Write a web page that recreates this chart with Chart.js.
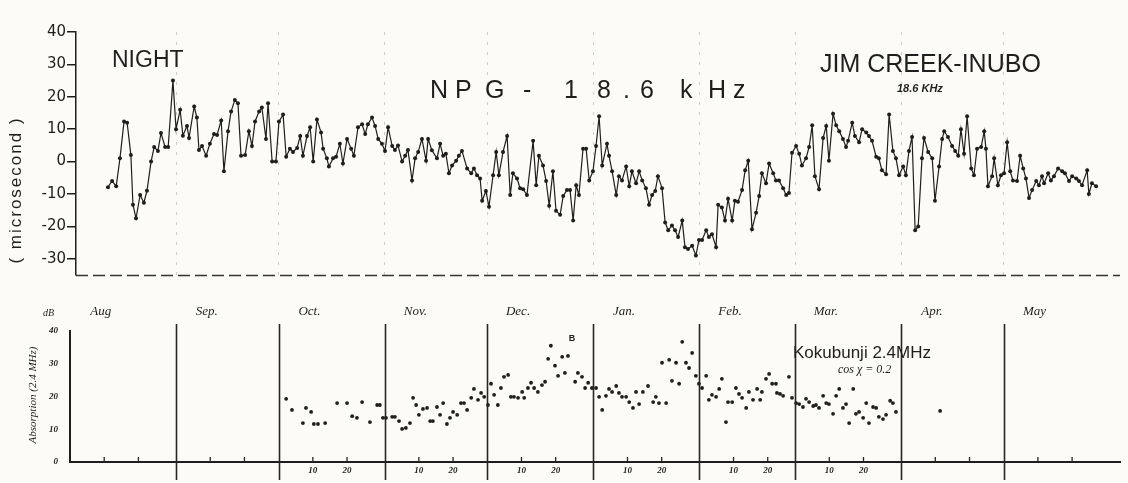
<!DOCTYPE html>
<html><head><meta charset="utf-8">
<script src="https://cdn.jsdelivr.net/npm/chart.js@4/dist/chart.umd.min.js"></script>
<style>
html,body{margin:0;padding:0;background:#fcfbf7;}
#wrap{position:relative;width:1128px;height:483px;overflow:hidden;}
canvas{position:absolute;left:0;}
#top{top:0;}
#bot{top:285px;}
</style></head><body>
<div id="wrap"><canvas id="top" width="1128" height="285"></canvas><canvas id="bot" width="1128" height="198"></canvas></div>
<script>
// ---- categories / ticks ----
const monthNames = ['Aug','Sep.','Oct.','Nov.','Dec.','Jan.','Feb.','Mar.','Apr.','May'];
const monthStarts = [0,31,61,92,122,153,184,212,243,273];   // days since Aug 1
const topYTicks = [40,30,20,10,0,-10,-20,-30];
const botYTicks = [0,10,20,30,40];
const dayTickMonths = [2,3,4,5,6,7];   // Oct..Mar carry "10" "20"
const dayTickLabels = [10,20];

// ---- top series: NPG 18.6 kHz night phase (microsecond) ----
const nightDays = [11.1,12.3,13.5,14.6,15.8,16.7,17.8,18.4,19.3,20.5,21.6,22.5,23.7,24.6,25.7,26.6,27.8,28.7,30.1,31.0,32.2,33.0,34.2,34.8,36.3,37.1,37.7,38.6,39.8,40.9,42.1,43.0,44.2,45.0,46.2,47.1,48.2,49.1,50.0,51.2,52.3,53.2,54.1,55.3,56.1,57.3,57.9,
59.1,60.2,61.1,62.3,63.2,64.3,65.2,66.4,67.3,68.1,69.3,70.2,71.1,72.2,73.4,74.0,75.1,75.7,76.9,77.8,78.9,79.8,81.0,82.2,83.0,84.2,85.4,86.3,87.1,88.3,89.2,90.1,91.2,92.1,93.0,94.2,95.0,95.9,97.1,98.0,98.8,100.0,100.9,101.8,102.9,104.1,104.7,105.8,
107.3,108.2,109.1,109.9,110.8,111.7,112.9,113.7,114.6,116.1,117.3,118.1,119.0,119.9,120.5,121.6,122.5,123.7,124.6,125.4,126.6,127.8,128.7,129.5,130.7,131.6,132.5,133.6,135.4,136.3,137.1,138.3,139.2,140.1,141.2,142.1,143.3,144.2,145.3,146.2,147.1,148.0,148.8,150.0,150.9,151.8,152.9,153.8,
154.7,155.6,157.0,157.6,158.5,159.7,160.5,161.4,162.6,163.5,164.3,165.5,166.4,167.3,168.4,169.3,170.2,171.1,171.9,173.1,174.0,174.9,176.0,176.9,177.8,179.0,179.8,180.7,181.9,183.0,183.9,184.8,186.0,186.8,187.7,188.9,189.5,190.6,191.5,192.4,193.6,194.4,195.3,196.5,197.4,198.3,199.4,200.6,201.5,202.3,
203.5,204.4,205.6,206.4,207.3,208.5,209.4,210.2,211.1,212.3,213.2,214.0,215.2,216.1,217.0,217.8,219.0,220.2,221.1,221.9,223.1,224.0,224.9,226.0,226.9,227.5,228.7,229.5,230.7,231.6,232.8,233.6,234.5,235.7,236.5,237.4,238.6,239.5,240.6,241.5,242.4,243.6,244.4,245.3,246.2,247.1,248.0,249.1,249.7,250.9,
252.1,252.9,254.1,255.0,255.6,256.7,257.9,258.8,259.7,260.5,261.4,262.3,263.5,264.3,265.2,266.4,267.3,267.8,268.4,269.6,270.2,271.3,272.2,273.1,274.0,274.9,275.7,276.9,277.8,278.7,279.5,280.4,281.3,282.5,283.3,284.2,284.8,286.0,286.8,287.7,288.9,290.1,290.9,292.1,293.0,294.2,295.0,295.9,297.4,297.9,298.8,300.0];
const nightDelay = [-7.9,-6,-7.6,1,12.4,12,2,-13.3,-17.5,-10.3,-12.7,-9,0,4.5,3.3,8.8,4.5,4.5,25,10,16,8,11,7.3,17,13.6,3.6,4.8,1.8,5.5,8.5,8.2,12.7,-3,9.4,15.5,19,18,1.8,2,9.4,4.8,12.4,15.5,16.7,7,18,
0,0,12.4,14.5,1.5,4,3,4.2,7.9,1.8,7.9,10.6,0,13,9,4,1,-1.5,1,1.5,5.5,-0.6,7,4,1.8,10.6,11.5,8.5,11.5,13.6,11,7,5.5,3.3,10.6,4.8,3.6,5,0,1.8,3.6,-5.8,1,3,7,0.3,7,3.5,
1,5.5,1.8,2.4,-3.6,-1.2,0.3,1.8,3.3,-2.1,-3.6,-2.1,-4.2,-5.2,-12.1,-9.1,-13.9,-4.2,3,-4.2,3,7.9,-10.3,-3.6,-5.2,-8.2,-8.5,-10.3,6.4,-7.3,1.8,-1.2,-6,-13.6,-3,-15.2,-16.4,-10.6,-8.8,-8.8,-18.2,-7.3,-10.3,4,4,-5.8,-3,4.8,
14,-1.2,5.5,1.8,-3,-10.3,-4.5,-5.8,-1.5,-7.6,-3,-6.7,-3,-5.8,-8.2,-13.3,-10.3,-9.1,-4.5,-8.2,-18.8,-21.2,-19.7,-21.2,-23.3,-18.2,-26.4,-27,-26,-29,-24.2,-24.2,-21.2,-23.3,-22.4,-26.4,-13.3,-14.2,-18.2,-11.5,-18.2,-12.1,-12.4,-8.8,-2.7,0.3,-20.9,-15.8,-10.6,-3.6,
-6.7,-0.6,-3.6,-5.8,-5.8,-8.2,-10.3,-9.7,2.7,4.8,2.4,-1.2,1,4.5,11.2,-4.5,-8.5,7.3,11,0.3,14.8,11.2,9.4,7,4.5,6.4,12,7.9,6,10,9,7.9,6.4,1.5,1,-2.7,-3.9,14.5,3.3,1,-4.2,-1.5,-4.2,3.3,7.6,-21.2,-20,1,7.3,3,
1,-12.1,-1.5,7,9.4,7.6,4.8,3.3,1.8,10,2.4,14,-2.1,-4.2,4,4.5,9.4,4,-7.6,-4.5,1,-7.3,-4.2,-3.6,6,-3,-5.8,-6,1.8,-2.1,-5.2,-11.2,-8.8,-6,-7.3,-4.5,-6.7,-3.6,-5.8,-4.5,-2.1,-3,-3.6,-6,-4.5,-5.2,-6,-7.3,-2.7,-10,-6.7,-7.6];

// ---- bottom series: Kokubunji 2.4 MHz absorption (dB) ----
const absDays = [63.2,64.9,68.1,69.0,70.5,71.3,72.5,74.6,78.1,81.0,82.5,83.9,85.4,87.7,89.8,90.6,91.5,92.4,94.2,95.0,96.2,97.1,98.2,99.4,100.3,101.2,102.0,103.2,104.4,105.3,106.1,107.3,108.2,109.1,110.2,111.1,112.0,113.2,114.3,115.2,116.1,117.3,118.1,119.3,120.2,121.1,122.2,123.1,124.0,125.1,126.0,126.9,128.1,128.9,129.8,131.0,132.2,132.8,133.9,134.8,135.7,136.8,138.0,138.9,139.8,140.6,141.8,142.7,143.9,144.7,145.6,147.7,148.5,149.7,150.6,151.5,152.6,153.8,154.7,155.6,156.7,157.6,158.5,159.7,160.5,161.4,162.6,163.5,164.6,165.5,166.4,167.5,169.0,170.5,171.3,172.2,173.1,174.3,175.2,176.0,177.2,178.1,179.0,180.1,181.0,181.9,183.0,183.9,184.8,186.0,186.8,187.7,188.9,189.8,190.6,191.8,192.4,193.6,194.7,195.6,196.5,197.7,198.5,199.7,200.9,201.8,202.3,203.5,204.4,205.3,206.4,206.7,207.6,208.5,210.2,211.1,212.3,213.2,214.3,215.2,216.1,217.3,218.1,219.0,220.2,221.1,221.9,223.1,224.0,224.9,226.0,226.9,227.8,229.0,229.8,230.7,231.9,232.8,233.6,234.8,235.7,236.5,237.7,238.6,239.8,240.6,241.5,254.4];
const absDB = [19.3,15.9,11.9,16.5,15.3,11.6,11.6,11.9,18,18,14,13.5,18.3,12.2,17.4,17.4,13.5,13.5,13.8,13.8,12.5,10.1,10.4,11.9,19.6,17.4,14.4,16.2,16.5,12.5,12.5,16.8,14.4,18,11.6,13.5,15.3,14.4,18,18,15.9,19.6,22.3,19,21.1,19.9,17.4,23.9,20.5,17.4,22.6,26,26.6,19.9,19.9,19.6,21.4,19.6,22.6,24.2,22.6,21.4,23.5,24.5,31.5,35.5,29.4,26.3,32.1,27.2,32.4,24.5,27.2,26,22.6,24.2,22.6,22.6,19.9,15.9,20.2,22.3,21.4,23.2,21.1,19.9,19.9,18.3,16.5,21.4,17.7,21.4,23.2,18.3,19.9,18,30.3,18,31.2,24.8,30.3,23.9,36.7,30.3,28.7,33.3,26.3,23.9,22.6,26.3,19,20.5,19.9,22.3,25.4,12.2,18.3,18.3,22.6,20.8,19.6,16.5,21.4,19,22.3,19,21.4,25.4,26.9,23.9,23.9,21.1,20.8,20.2,26,19.6,18,17.7,16.8,19.3,18.3,17.1,17.4,16.5,20.2,18,17.7,14.7,20.2,22.3,16.5,17.7,11.9,22.3,14.7,15.3,13.5,18,11.9,16.8,16.5,13.8,13.1,14.4,18.7,18,15.3,15.6];

const INK = '#1e1e1e';
const SANS = '"Liberation Sans", Arial, sans-serif';
const HAND = '"Liberation Serif", serif';

// ---------- TOP CHART ----------
const topDecor = {
  id: 'topDecor',
  afterDraw(chart) {
    const {ctx, chartArea: a} = chart;
    ctx.save();
    ctx.strokeStyle = '#333'; ctx.lineWidth = 1.5; ctx.setLineDash([12,5]);
    ctx.beginPath(); ctx.moveTo(a.left, a.bottom + 0.5); ctx.lineTo(a.right, a.bottom + 0.5); ctx.stroke();
    ctx.setLineDash([]);
    ctx.fillStyle = INK;
    ctx.textBaseline = 'alphabetic';
    ctx.font = '23px ' + SANS;
    ctx.fillText('NIGHT', 112, 67);
    ctx.font = '25px ' + SANS;
    ctx.fillText('JIM CREEK-INUBO', 820, 72);
    const npg = ['N','P','G','-','1','8','.','6','k','H','z'];
    const npgX = [430,455,485,523,564,597,623,640,680,708,733];
    npg.forEach((c,i) => ctx.fillText(c, npgX[i], 98));
    ctx.font = 'italic bold 11px ' + SANS;
    ctx.fillText('18.6 KHz', 897, 92);
    ctx.save();
    ctx.translate(21, 190); ctx.rotate(-Math.PI/2);
    ctx.textAlign = 'center';
    ctx.font = '17px ' + SANS;
    try { ctx.letterSpacing = '2px'; } catch(e) {}
    ctx.fillText('( microsecond )', 0, 0);
    ctx.restore();
    ctx.restore();
  }
};

new Chart(document.getElementById('top'), {
  type: 'line',
  data: { datasets: [{
    data: nightDays.map((d,i) => ({x: d, y: nightDelay[i]})),
    borderColor: INK, borderWidth: 1.2, tension: 0,
    pointRadius: 2, pointBackgroundColor: INK, pointBorderWidth: 0
  }]},
  options: {
    responsive: false, animation: false, devicePixelRatio: 1,
    layout: { padding: {left: 0, right: 8, top: 32, bottom: 6} },
    plugins: { legend: {display: false}, tooltip: {enabled: false} },
    scales: {
      x: { type: 'linear', min: 1.75, max: 307,
        afterBuildTicks: s => { s.ticks = monthStarts.slice(1).map(v => ({value: v})); },
        afterFit: s => { s.height = 0; },
        ticks: {display: false},
        grid: {drawTicks: false, color: 'rgba(70,70,70,0.25)', lineWidth: 1},
        border: {display: false, dash: [3,7]} },
      y: { min: -35, max: 40,
        afterBuildTicks: s => { s.ticks = topYTicks.map(v => ({value: v})); },
        afterFit: s => { s.width = 76; },
        ticks: {color: INK, font: {family: 'DejaVu Sans', size: 15}, padding: 1},
        grid: {drawOnChartArea: false, drawTicks: true, tickLength: 9, color: INK, lineWidth: 1.5},
        border: {display: true, color: INK, width: 1.5} }
    }
  },
  plugins: [topDecor]
});

// ---------- BOTTOM CHART ----------
const botTickVals = [], botTickText = [];
dayTickMonths.forEach(m => dayTickLabels.forEach(d => { botTickVals.push(monthStarts[m] + d); botTickText.push(String(d)); }));

const botDecor = {
  id: 'botDecor',
  afterDraw(chart) {
    const {ctx, chartArea: a} = chart;
    const xs = chart.scales.x;
    ctx.save();
    ctx.strokeStyle = '#262626';
    ctx.lineWidth = 1.6;
    monthStarts.slice(1).forEach(m => {
      const px = Math.round(xs.getPixelForValue(m)) + 0.5;
      ctx.beginPath(); ctx.moveTo(px, 39); ctx.lineTo(px, 195); ctx.stroke();
    });
    ctx.lineWidth = 1.3;
    monthStarts.forEach(m => [10,20].forEach(d => {
      const px = xs.getPixelForValue(m + d);
      if (px < a.right) { ctx.beginPath(); ctx.moveTo(px, a.bottom); ctx.lineTo(px, a.bottom - 5); ctx.stroke(); }
    }));
    ctx.fillStyle = INK;
    ctx.font = 'italic 13px ' + HAND;
    ctx.textAlign = 'center'; ctx.textBaseline = 'middle';
    monthNames.forEach((n,i) => ctx.fillText(n, xs.getPixelForValue(monthStarts[i] + 9), 27));
    ctx.font = 'bold 9px ' + SANS;
    ctx.fillText('B', 572, 54);
    ctx.textAlign = 'left'; ctx.textBaseline = 'alphabetic';
    ctx.font = 'italic 10px ' + HAND;
    ctx.fillText('dB', 43, 31);
    ctx.font = '17px ' + SANS;
    ctx.fillText('Kokubunji 2.4MHz', 793, 73);
    ctx.font = 'italic 12px ' + HAND;
    ctx.fillText('cos \u03C7 = 0.2', 838, 88);
    ctx.save();
    ctx.translate(36, 110); ctx.rotate(-Math.PI/2);
    ctx.textAlign = 'center';
    ctx.font = 'italic 11px ' + HAND;
    ctx.fillText('Absorption (2.4 MHz)', 0, 0);
    ctx.restore();
    ctx.restore();
  }
};

new Chart(document.getElementById('bot'), {
  type: 'scatter',
  data: { datasets: [{
    data: absDays.map((d,i) => ({x: d, y: absDB[i]})),
    pointRadius: 1.9, pointBackgroundColor: INK, pointBorderWidth: 0, showLine: false
  }]},
  options: {
    responsive: false, animation: false, devicePixelRatio: 1,
    layout: { padding: {left: 0, right: 8, top: 46, bottom: 0} },
    plugins: { legend: {display: false}, tooltip: {enabled: false} },
    scales: {
      x: { type: 'linear', min: 0, max: 307,
        afterBuildTicks: s => { s.ticks = botTickVals.map(v => ({value: v})); },
        afterFit: s => { s.height = 21; },
        ticks: {autoSkip: false, maxRotation: 0, padding: 3, color: INK,
          font: {family: '"Liberation Serif", serif', size: 9, style: 'italic', weight: 'bold'},
          callback: (v, i) => botTickText[i]},
        grid: {display: false, drawTicks: false},
        border: {display: true, color: INK, width: 2} },
      y: { min: 0, max: 40,
        afterBuildTicks: s => { s.ticks = botYTicks.map(v => ({value: v})); },
        afterFit: s => { s.width = 70; },
        ticks: {color: INK, padding: 12, font: {family: '"Liberation Serif", serif', size: 9, style: 'italic', weight: 'bold'}},
        grid: {drawOnChartArea: false, drawTicks: false},
        border: {display: true, color: INK, width: 2} }
    }
  },
  plugins: [botDecor]
});
</script>
</body></html>
